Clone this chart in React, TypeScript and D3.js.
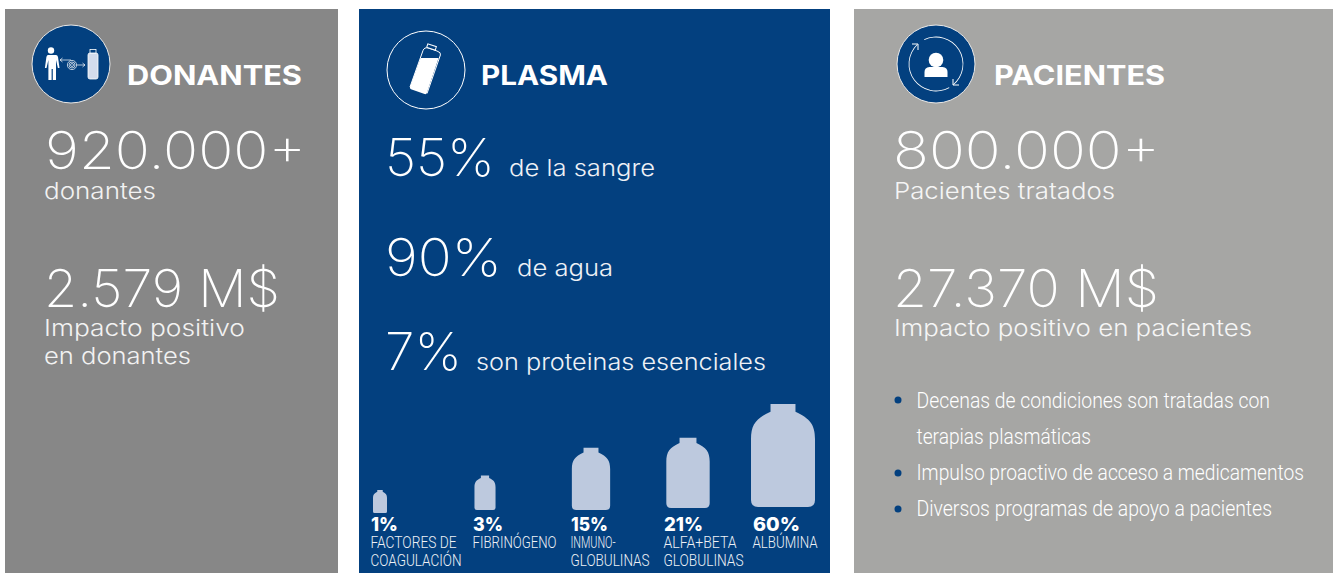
// App.tsx
import React from 'react';
import * as d3 from 'd3';

const width = 1337;
const height = 573;

const BLUE = '#03407f';
const LIGHT = 'Inter, sans-serif';
const HEAD = 'Inter, sans-serif';
const NARROW = 'Roboto, sans-serif';

// plasma fractions
const fractionValues = [1, 3, 15, 21, 60];
const fractionLabels = ['1%', '3%', '15%', '21%', '60%'];
const fractionNames = [
  ['FACTORES DE', 'COAGULACIÓN'],
  ['FIBRINÓGENO'],
  ['INMUNO-', 'GLOBULINAS'],
  ['ALFA+BETA', 'GLOBULINAS'],
  ['ALBÚMINA'],
];

const headings = ['DONANTES', 'PLASMA', 'PACIENTES'];
const donorFigures = ['920.000+', '2.579 M$'];
const donorCaptions = ['donantes', 'Impacto positivo', 'en donantes'];
const plasmaFigures = ['55%', '90%', '7%'];
const plasmaCaptions = ['de la sangre', 'de agua', 'son proteinas esenciales'];
const patientFigures = ['800.000+', '27.370 M$'];
const patientCaptions = ['Pacientes tratados', 'Impacto positivo en pacientes'];
const patientBullets = [
  ['Decenas de condiciones son tratadas con', 'terapias plasmáticas'],
  ['Impulso proactivo de acceso a medicamentos'],
  ['Diversos programas de apoyo a pacientes'],
];

// bottle size follows the share on a compressed power scale
const bottleW = d3.scalePow().exponent(0.37).domain([1, 60]).range([14, 64]);
const bottleH = d3.scalePow().exponent(0.36).domain([1, 60]).range([23, 103]);
const bottleX = d3.scaleOrdinal<number, number>(fractionValues, [380, 485, 591, 688, 783]);
const bottleBase = d3.scaleOrdinal<number, number>(fractionValues, [513, 510, 510, 508, 507]);

const bottlePath = (v: number) => {
  const w = bottleW(v);
  const h = bottleH(v);
  const cx = bottleX(v);
  const b = bottleBase(v);
  const neckW = w * 0.39;
  const neckH = h * 0.075;
  const r = w * 0.11;
  const p = d3.path();
  p.moveTo(cx - neckW / 2, b - h);
  p.lineTo(cx + neckW / 2, b - h);
  p.lineTo(cx + neckW / 2, b - h + neckH);
  p.bezierCurveTo(cx + w * 0.42, b - h * 0.86, cx + w / 2, b - h * 0.8, cx + w / 2, b - h * 0.66);
  p.lineTo(cx + w / 2, b - r);
  p.quadraticCurveTo(cx + w / 2, b, cx + w / 2 - r, b);
  p.lineTo(cx - w / 2 + r, b);
  p.quadraticCurveTo(cx - w / 2, b, cx - w / 2, b - r);
  p.lineTo(cx - w / 2, b - h * 0.66);
  p.bezierCurveTo(cx - w / 2, b - h * 0.8, cx - w * 0.42, b - h * 0.86, cx - neckW / 2, b - h + neckH);
  p.closePath();
  return p.toString();
};

const arc = d3.arc();

type TProps = {
  x: number;
  y: number;
  w?: number;
  size: number;
  fill?: string;
  family?: string;
  weight?: number;
  children: React.ReactNode;
};

// text fitted to the measured width of the original type
const T = ({ x, y, w, size, fill = '#fff', family = LIGHT, weight = 300, children }: TProps) => (
  <text
    x={x}
    y={y}
    fontSize={size}
    fill={fill}
    fontFamily={family}
    fontWeight={weight}
    textLength={w}
    lengthAdjust={w ? 'spacingAndGlyphs' : undefined}
  >
    {children}
  </text>
);

const DonorIcon = () => (
  <g>
    <circle cx={71} cy={64} r={39} fill={BLUE} stroke="#e8e8e8" strokeWidth={1} />
    <circle cx={51} cy={50.5} r={3.2} fill="#fff" />
    <path
      d="M46 55 h10 q1.5 0 2 2 l1.5 11 h-1.6 l-1.9 -8 v20 h-3.2 v-11 h-1.2 v11 h-3.2 v-20 l-1.9 8 h-1.6 l1.5 -11 q.5 -2 1.6 -2 z"
      fill="#fff"
    />
    <rect x={88} y={53} width={10} height={26} rx={2} fill="#d3dcec" stroke="#fff" strokeWidth={0.8} />
    <rect x={90} y={49.5} width={6} height={3.5} fill={BLUE} stroke="#fff" strokeWidth={0.8} />
    <g fill="none" stroke="#fff" strokeWidth={0.7}>
      <path d="M60 60 h11 M60 60 l2.5 -2 M60 60 l2.5 2" />
      <path d="M77 65 h8 M85 65 l-2.5 -2 M85 65 l-2.5 2" />
      <circle cx={72} cy={65} r={1.5} />
      <circle cx={72} cy={65} r={3} />
      <circle cx={72} cy={65} r={4.6} />
    </g>
  </g>
);

const PlasmaIcon = () => (
  <g>
    <circle cx={426} cy={70} r={39} fill="none" stroke="#fff" strokeWidth={1} />
    <path d="M420.6 58 L438.6 58 L426.8 93 Q426.2 94.6 424.6 94 L411 89.2 Q409.4 88.6 410 87 Z" fill="#fff" />
    <path d="M410 87 L423 50.5 Q424.4 47 428 48 L437 51 Q441.4 52.5 440.4 55 L427 93.5" fill="none" stroke="#fff" strokeWidth={1} />
    <rect x={427} y={45} width={9} height={3.6} transform="rotate(18.5 431 47)" fill={BLUE} stroke="#fff" strokeWidth={1} />
  </g>
);

const PatientIcon = () => (
  <g transform="translate(936,64)">
    <circle r={39} fill={BLUE} stroke="#e8e8e8" strokeWidth={1} />
    <circle cy={-4} r={7.3} fill="#fff" />
    <path d="M-11.5 13 v-5 q0 -4.5 5 -5 h13 q5 .5 5 5 v5 z" fill="#fff" />
    <g fill="#fff">
      <path d={arc({ innerRadius: 26.6, outerRadius: 27.4, startAngle: -0.45, endAngle: 2.46 }) ?? ''} />
      <path d={arc({ innerRadius: 26.6, outerRadius: 27.4, startAngle: 2.63, endAngle: 5.52 }) ?? ''} />
    </g>
    <g fill="none" stroke="#fff" strokeWidth={1}>
      <path d="M17 15 v6 h6" />
      <path d="M-18 -14 v-6 h-6" />
    </g>
  </g>
);

const App = () => {
  const labelX = [371, 473, 571, 664, 753];
  const labelW = [27, 30, 37, 39, 47];
  const nameW = [
    [86, 91],
    [84],
    [45, 79],
    [73, 80],
    [65],
  ];

  return (
    <svg
      width={width}
      height={height}
      viewBox={`0 0 ${width} ${height}`}
      style={{ position: 'absolute', left: 0, top: 0, background: '#fff' }}
    >
      <rect x={5} y={9} width={333} height={564} fill="#878787" />
      <rect x={359} y={9} width={471} height={564} fill={BLUE} />
      <rect x={854} y={9} width={479} height={564} fill="#a6a6a4" />

      <DonorIcon />
      <PlasmaIcon />
      <PatientIcon />

      <T x={127} y={85} w={175} size={27} family={HEAD} weight={700}>{headings[0]}</T>
      <T x={481} y={85} w={127} size={27} family={HEAD} weight={700}>{headings[1]}</T>
      <T x={994} y={85} w={171} size={27} family={HEAD} weight={700}>{headings[2]}</T>

      {/* donantes */}
      <T x={45} y={169} w={261} size={52} weight={200}>{donorFigures[0]}</T>
      <T x={44} y={199} w={112} size={23} fill="#f2f2f2">{donorCaptions[0]}</T>
      <T x={44} y={307} w={236} size={52} weight={200}>{donorFigures[1]}</T>
      <T x={44} y={336} w={201} size={23} fill="#f2f2f2">{donorCaptions[1]}</T>
      <T x={44} y={364} w={147} size={23} fill="#f2f2f2">{donorCaptions[2]}</T>

      {/* plasma */}
      <T x={385} y={176} w={110} size={52} weight={200}>{plasmaFigures[0]}</T>
      <T x={509} y={176} w={146} size={23} fill="#eef1f6">{plasmaCaptions[0]}</T>
      <T x={385} y={276} w={117} size={52} weight={200}>{plasmaFigures[1]}</T>
      <T x={517} y={276} w={96} size={23} fill="#eef1f6">{plasmaCaptions[1]}</T>
      <T x={385} y={370} w={77} size={52} weight={200}>{plasmaFigures[2]}</T>
      <T x={476} y={370} w={290} size={23} fill="#eef1f6">{plasmaCaptions[2]}</T>

      {fractionValues.map((v, i) => (
        <g key={v}>
          <path d={bottlePath(v)} fill="#bdc9de" />
          <T x={labelX[i]} y={531} w={labelW[i]} size={19} family={HEAD} weight={800}>{fractionLabels[i]}</T>
          {fractionNames[i].map((line, j) => (
            <T key={line} x={labelX[i] - 0.5} y={548 + j * 18} w={nameW[i][j]} size={16} family={NARROW} weight={300} fill="#eef1f6">
              {line}
            </T>
          ))}
        </g>
      ))}

      {/* pacientes */}
      <T x={893} y={169} w={267} size={52} weight={200}>{patientFigures[0]}</T>
      <T x={894} y={199} w={221} size={23} fill="#f5f5f5">{patientCaptions[0]}</T>
      <T x={893} y={307} w={266} size={52} weight={200}>{patientFigures[1]}</T>
      <T x={894} y={336} w={358} size={23} fill="#f5f5f5">{patientCaptions[1]}</T>

      <circle cx={898} cy={400} r={3.5} fill={BLUE} />
      <circle cx={898} cy={473} r={3.5} fill={BLUE} />
      <circle cx={898} cy={509} r={3.5} fill={BLUE} />
      <T x={916.5} y={408} w={353.5} size={22} family={NARROW} weight={300} fill="#fff">{patientBullets[0][0]}</T>
      <T x={916.5} y={444} w={174.5} size={22} family={NARROW} weight={300} fill="#fff">{patientBullets[0][1]}</T>
      <T x={916.5} y={480} w={387.5} size={22} family={NARROW} weight={300} fill="#fff">{patientBullets[1][0]}</T>
      <T x={916.5} y={516} w={355.5} size={22} family={NARROW} weight={300} fill="#fff">{patientBullets[2][0]}</T>
    </svg>
  );
};

export default App;
